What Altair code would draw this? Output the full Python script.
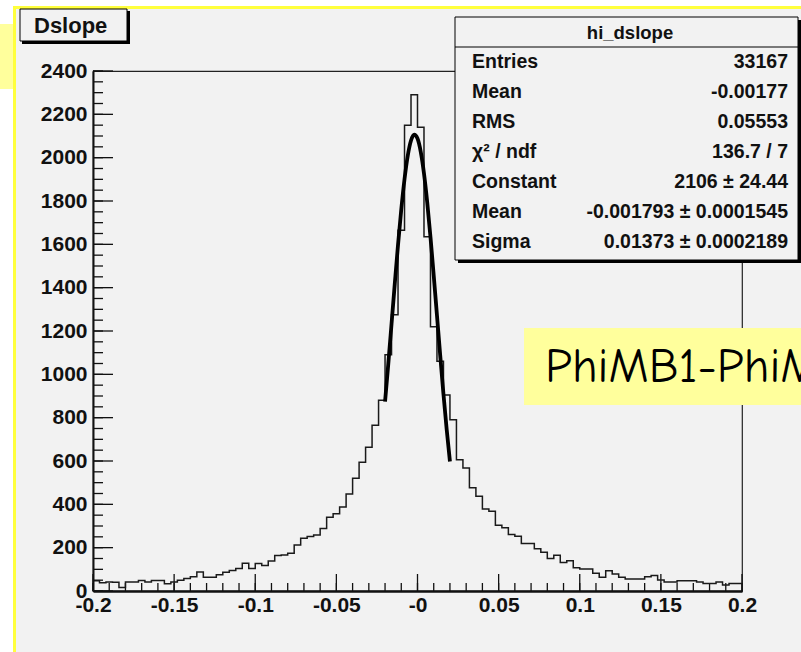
import altair as alt
import pandas as pd

# ---------------- data ----------------
bin_counts = [
    47, 38, 41, 40, 16, 41, 41, 49, 42, 48,
    48, 34, 42, 50, 58, 66, 88, 63, 63, 75,
    86, 95, 104, 128, 104, 127, 118, 138, 164, 166,
    174, 212, 244, 252, 258, 289, 340, 357, 388, 448,
    520, 594, 664, 765, 880, 1090, 1275, 1665, 2150, 2290,
    2140, 1635, 1220, 1060, 905, 790, 606, 568, 476, 437,
    379, 368, 304, 292, 261, 253, 219, 219, 195, 179,
    150, 165, 132, 140, 107, 101, 101, 82, 63, 94,
    78, 63, 55, 55, 55, 66, 71, 51, 41, 41,
    47, 47, 47, 41, 35, 35, 41, 28, 35, 35,
]
bin_low = -0.2
bin_width = 0.004

fit_x = [-0.020, -0.018, -0.016, -0.014, -0.012, -0.010, -0.008, -0.006, -0.004, -0.002,
         0.000, 0.002, 0.004, 0.006, 0.008, 0.010, 0.012, 0.014, 0.016, 0.018, 0.020]
fit_y = [874, 1049, 1233, 1418, 1598, 1761, 1901, 2009, 2079, 2106,
         2088, 2027, 1927, 1793, 1633, 1456, 1272, 1087, 909, 745, 598]

x_major = [-0.2, -0.15, -0.1, -0.05, 0, 0.05, 0.1, 0.15, 0.2]
x_minor = [round(-0.2 + 0.01 * i, 2) for i in range(41)]
y_major = [0, 200, 400, 600, 800, 1000, 1200, 1400, 1600, 1800, 2000, 2200, 2400]
y_minor = [50 * i for i in range(49)]

hist_title = "Dslope"
stats_name = "hi_dslope"
stat_labels = ["Entries", "Mean", "RMS", "χ² / ndf", "Constant", "Mean", "Sigma"]
stat_values = ["33167", "-0.00177", "0.05553", "136.7 / 7", "2106 ± 24.44",
               "-0.001793 ± 0.0001545", "0.01373 ± 0.0002189"]
note_text = "PhiMB1-PhiMB2"

# ---------------- layout ----------------
W, H = 649, 520
L, T = 93, 71
FONT = "Liberation Sans"
GREY = "#f2f2f2"
INK = "#111111"

edges = [round(bin_low + bin_width * i, 3) for i in range(len(bin_counts) + 1)]
hist_df = pd.DataFrame({"x": edges, "y": bin_counts + [bin_counts[-1]]})
fit_df = pd.DataFrame({"x": fit_x, "y": fit_y})
dummy = pd.DataFrame({"a": [0]})

xscale = alt.Scale(domain=[-0.2, 0.2], nice=False, zero=False)
yscale = alt.Scale(domain=[0, 2400], nice=False, zero=False)
xaxis = alt.Axis(values=x_major, labelExpr="datum.value == 0 ? '-0' : '' + datum.value",
                 ticks=False, tickSize=0, grid=False, domainColor=INK, domainWidth=2.5,
                 labelFont=FONT, labelFontWeight="bold", labelFontSize=21, labelColor=INK,
                 labelPadding=3, title=None, labelFlush=False, labelOverlap=False, zindex=1)
yaxis = alt.Axis(values=y_major, format="d", ticks=False, tickSize=0, grid=False,
                 domainColor=INK, domainWidth=2, labelFont=FONT, labelFontWeight="bold",
                 labelFontSize=21, labelColor=INK, labelPadding=6, title=None,
                 labelFlush=False, labelOverlap=False, zindex=1)
X = alt.X("x:Q", scale=xscale, axis=xaxis)
Y = alt.Y("y:Q", scale=yscale, axis=yaxis)


def box(x1, x2, y1, y2, **kw):
    return alt.Chart(dummy).mark_rect(**kw).encode(
        x=alt.value(x1 - L), x2=alt.value(x2 - L), y=alt.value(y1 - T), y2=alt.value(y2 - T))


def label(text, x, y, **kw):
    return alt.Chart(dummy).mark_text(text=text, font=FONT, color=INK, **kw).encode(
        x=alt.value(x - L), y=alt.value(y - T))


layers = []
# white margins, yellow slide border, pale yellow box
layers.append(box(0, 801, 0, 7, color="white"))
layers.append(box(0, 13, 0, 652, color="white"))
layers.append(box(0, 13, 24, 89, color="#ffff9c"))
layers.append(box(13, 801, 6, 9, color="#ffff3c"))
layers.append(box(13, 16, 6, 652, color="#ffff3c"))

# ticks (inside the frame, ROOT style)
xt_major = pd.DataFrame({"x": x_major})
xt_minor = pd.DataFrame({"x": x_minor})
yt_major = pd.DataFrame({"y": y_major})
yt_minor = pd.DataFrame({"y": y_minor})
layers.append(alt.Chart(xt_major).mark_rule(color=INK, strokeWidth=1.3).encode(
    x=X, y=alt.value(H), y2=alt.value(H - 17)))
layers.append(alt.Chart(xt_minor).mark_rule(color=INK, strokeWidth=1.3).encode(
    x=X, y=alt.value(H), y2=alt.value(H - 8)))
layers.append(alt.Chart(yt_major).mark_rule(color=INK, strokeWidth=1.3).encode(
    y=Y, x=alt.value(0), x2=alt.value(20)))
layers.append(alt.Chart(yt_minor).mark_rule(color=INK, strokeWidth=1.3).encode(
    y=Y, x=alt.value(0), x2=alt.value(10)))

# histogram and fit
layers.append(alt.Chart(hist_df).mark_line(interpolate="step-after", color="#1a1a1a",
                                           strokeWidth=1.5).encode(x=X, y=Y))
layers.append(alt.Chart(fit_df).mark_line(interpolate="monotone", color="black",
                                          strokeWidth=3.8).encode(x=X, y=Y))

# title box
layers.append(box(22, 130, 11, 44, color="black"))
layers.append(box(20, 127, 9, 41, fill=GREY, stroke="black", strokeWidth=1))
layers.append(label(hist_title, 34, 26, fontSize=22, fontWeight="bold", align="left",
                    baseline="middle"))

# stats box
layers.append(box(458, 804, 20, 263, color="black"))
layers.append(box(455, 798, 17, 260, fill=GREY, stroke="black", strokeWidth=1))
layers.append(alt.Chart(dummy).mark_rule(color="black", strokeWidth=1).encode(
    x=alt.value(455 - L), x2=alt.value(798 - L), y=alt.value(47 - T)))
layers.append(label(stats_name, 630, 33, fontSize=18.5, fontWeight="bold", align="center",
                    baseline="middle"))
for i, (lab, val) in enumerate(zip(stat_labels, stat_values)):
    yy = 62 + 30 * i
    layers.append(label(lab, 472, yy, fontSize=19.5, fontWeight="bold", align="left",
                        baseline="middle"))
    layers.append(label(val, 788, yy, fontSize=19.5, fontWeight="bold", align="right",
                        baseline="middle"))

# yellow note
layers.append(box(524, 801, 328, 405, color="#ffff9c"))
layers.append(alt.Chart(dummy).mark_text(text=note_text, font="Comic Sans MS, Comic Neue, Lato",
                                         fontSize=48, color="black", align="left",
                                         baseline="alphabetic").encode(
    x=alt.value(545 - L), y=alt.value(382 - T)))

chart = alt.layer(*layers).properties(
    width=W, height=H,
    padding={"left": L, "top": T, "right": 801 - L - W, "bottom": 652 - T - H},
    autosize=alt.AutoSizeParams(type="none"),
).configure(background=GREY).configure_view(stroke="#222222", strokeWidth=1.2)

chart.save("out.html", embed_options={"renderer": "svg", "actions": False})
